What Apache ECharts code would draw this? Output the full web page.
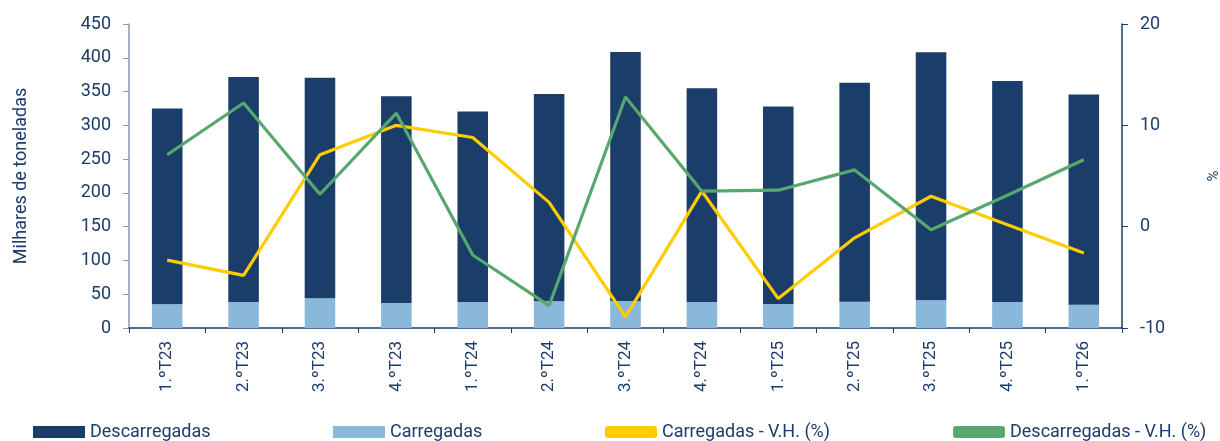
<!DOCTYPE html>
<html>
<head>
<meta charset="utf-8">
<script src="https://cdn.jsdelivr.net/npm/echarts@6/dist/echarts.min.js"></script>
<style>
  html, body { margin: 0; padding: 0; background: #fff; }
  #chart { width: 1220px; height: 441px; }
</style>
</head>
<body>
<div id="chart"></div>
<script>
// trimestres
const quarters = ['1.ºT23', '2.ºT23', '3.ºT23', '4.ºT23', '1.ºT24', '2.ºT24', '3.ºT24', '4.ºT24', '1.ºT25', '2.ºT25', '3.ºT25', '4.ºT25', '1.ºT26'];
// milhares de toneladas
const carregadas = [35, 38.5, 44, 37, 38.5, 39.5, 40, 38.5, 35.5, 39, 41, 38.5, 34.5];
const descarregadas = [290, 333, 326.5, 306, 282, 307, 368.5, 316.5, 292.5, 324, 367, 327, 311];
// variação homóloga (%)
const carregadasVH = [-3.3, -4.8, 7.1, 10.0, 8.8, 2.4, -8.9, 3.5, -7.1, -1.1, 3.0, 0.2, -2.6];
const descarregadasVH = [7.1, 12.2, 3.2, 11.2, -2.8, -7.8, 12.8, 3.5, 3.6, 5.6, -0.3, 3.1, 6.6];

const leftTicks = { min: 0, max: 450, interval: 50 };
const rightTicks = { min: -10, max: 20, interval: 10 };

const textColor = '#1d3c69';
const font = 'Roboto, "Noto Sans", sans-serif';
const navy = '#1a3d6a';
const lightBlue = '#8ab8da';
const yellow = '#ffcc00';
const green = '#57a86f';

const chart = echarts.init(document.getElementById('chart'), null, { renderer: 'canvas' });

// uma legenda por item para acertar as posições
function legendAt(name, left, icon) {
  return {
    data: [name],
    left: left,
    top: 418,
    itemWidth: 52,
    itemHeight: 12,
    icon: icon,
    itemGap: 0,
    textStyle: { color: textColor, fontSize: 18, fontFamily: font },
    selectedMode: false
  };
}

const option = {
  animation: false,
  textStyle: { fontFamily: font },
  grid: { left: 129, right: 98, top: 24, bottom: 113, containLabel: false, outerBoundsMode: 'none' },
  legend: [
    legendAt('Descarregadas', 28, 'rect'),
    legendAt('Carregadas', 328, 'rect'),
    legendAt('Carregadas - V.H. (%)', 600, 'roundRect'),
    legendAt('Descarregadas - V.H. (%)', 948, 'roundRect')
  ],
  xAxis: {
    type: 'category',
    data: quarters,
    boundaryGap: true,
    axisLine: { lineStyle: { color: navy, width: 1.5 } },
    axisTick: { show: true, alignWithLabel: false, length: 5, lineStyle: { color: navy } },
    axisLabel: { rotate: 90, color: textColor, fontSize: 17, fontFamily: font, margin: 13, interval: 0 }
  },
  yAxis: [
    {
      type: 'value',
      min: leftTicks.min, max: leftTicks.max, interval: leftTicks.interval,
      name: 'Milhares de toneladas',
      nameLocation: 'middle',
      nameGap: 99,
      nameTextStyle: { color: textColor, fontSize: 18, fontFamily: font },
      axisLine: { show: true, lineStyle: { color: '#8797b0', width: 1.5 } },
      axisTick: { show: true, length: 6, lineStyle: { color: '#8797b0' } },
      axisLabel: { color: textColor, fontSize: 18, fontFamily: font, margin: 18 },
      splitLine: { show: false }
    },
    {
      type: 'value',
      position: 'right',
      min: rightTicks.min, max: rightTicks.max, interval: rightTicks.interval,
      name: '%',
      nameLocation: 'middle',
      nameGap: 85,
      nameTextStyle: { color: textColor, fontSize: 15, fontFamily: font },
      axisLine: { show: true, lineStyle: { color: navy, width: 1.5 } },
      axisTick: { show: true, length: 6, lineStyle: { color: navy } },
      axisLabel: { color: textColor, fontSize: 18, fontFamily: font, margin: 18 },
      splitLine: { show: false }
    }
  ],
  series: [
    {
      name: 'Carregadas',
      type: 'bar',
      stack: 'total',
      barWidth: '40%',
      itemStyle: { color: lightBlue },
      data: carregadas
    },
    {
      name: 'Descarregadas',
      type: 'bar',
      stack: 'total',
      barWidth: '40%',
      itemStyle: { color: navy },
      data: descarregadas
    },
    {
      name: 'Carregadas - V.H. (%)',
      type: 'line',
      yAxisIndex: 1,
      showSymbol: false,
      symbol: 'none',
      lineStyle: { color: yellow, width: 3.2 },
      itemStyle: { color: yellow },
      data: carregadasVH
    },
    {
      name: 'Descarregadas - V.H. (%)',
      type: 'line',
      yAxisIndex: 1,
      showSymbol: false,
      symbol: 'none',
      lineStyle: { color: green, width: 3.2 },
      itemStyle: { color: green },
      data: descarregadasVH
    }
  ]
};

chart.setOption(option);
</script>
</body>
</html>
